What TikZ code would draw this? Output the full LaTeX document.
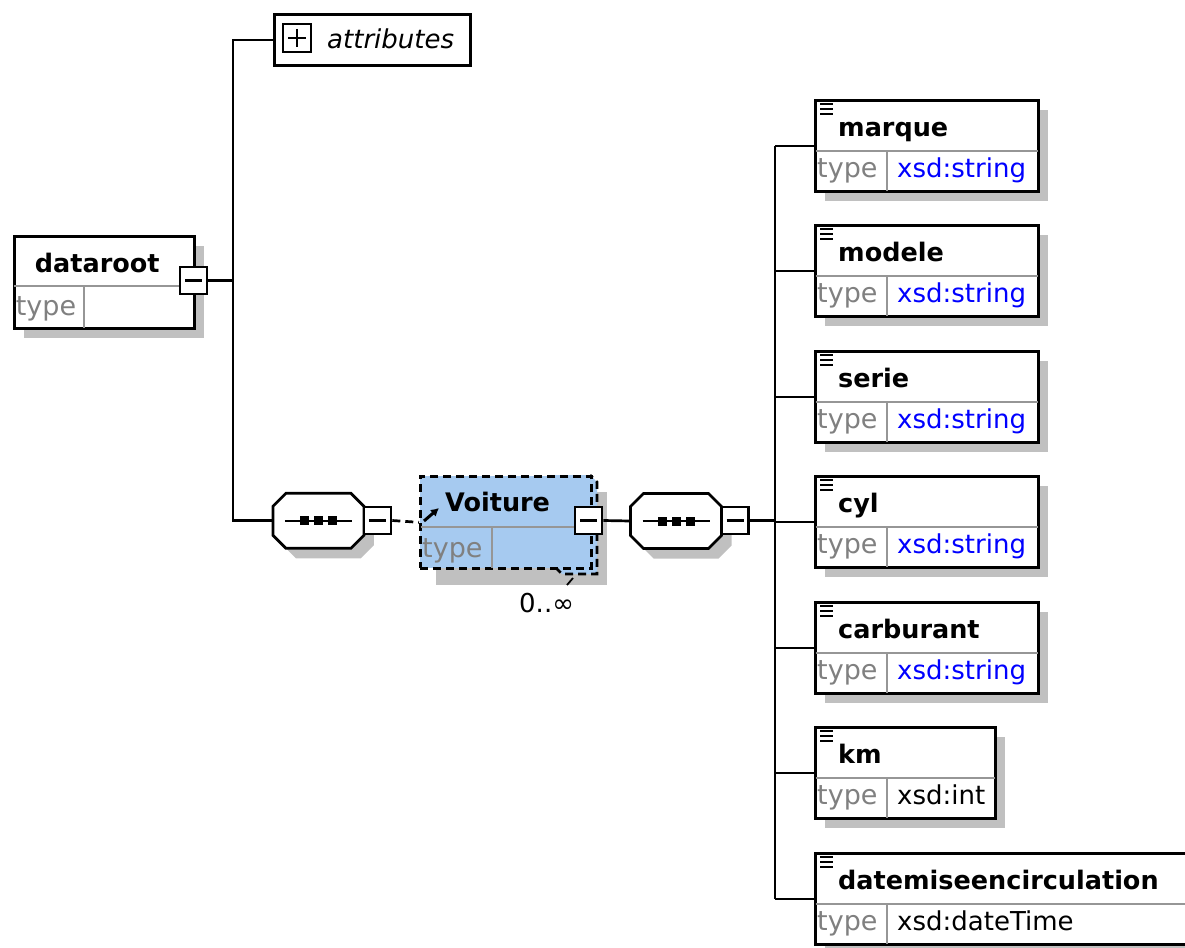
\documentclass[tikz,border=0pt]{standalone}
\usepackage{fontspec}
\setmainfont{DejaVu Sans}
\usetikzlibrary{calc,shadows,arrows.meta}
\definecolor{shadowgray}{RGB}{192,192,192}
\definecolor{divgray}{RGB}{150,150,150}
\definecolor{typegray}{RGB}{128,128,128}
\definecolor{xsdblue}{RGB}{0,0,255}
\definecolor{voiblue}{RGB}{166,202,240}
\tikzset{
  elem/.style={draw=black, line width=2.8pt, fill=white, rectangle, minimum height=91pt, inner sep=0pt,
    drop shadow={shadow xshift=10pt, shadow yshift=-10pt, fill=shadowgray, opacity=1}},
  divider/.style={draw=divgray, line width=2.2pt},
  titletext/.style={font=\fontsize{25.5}{30}\selectfont\bfseries, inner sep=0pt},
  typelabel/.style={font=\fontsize{27}{30}\selectfont, text=typegray, inner sep=0pt},
  typetext/.style={font=\fontsize{26}{30}\selectfont, inner sep=0pt},
  conn/.style={draw=black, line width=2.7pt},
  dashconn/.style={draw=black, line width=2.7pt, dash pattern=on 8pt off 5pt},
  iconline/.style={line width=1.7pt},
  minusbox/.style={draw=black, fill=white, line width=2.6pt, minimum size=27pt, inner sep=0pt,
    path picture={\draw[line width=2.4pt] ([xshift=5pt]path picture bounding box.west) -- ([xshift=-5pt]path picture bounding box.east);}},
  plusbox/.style={draw=black, fill=white, line width=2.6pt, minimum size=28pt, inner sep=0pt,
    path picture={\draw[line width=2.4pt] ([xshift=5pt]path picture bounding box.west) -- ([xshift=-5pt]path picture bounding box.east);
                  \draw[line width=2.4pt] ([yshift=-5pt]path picture bounding box.north) -- ([yshift=5pt]path picture bounding box.south);}},
}
\newcommand{\elembox}[7]{%
  \node[elem, minimum width=#4pt, anchor=north west] (#1) at (#2,#3) {};
  \draw[divider] ($(#1.north west)+(1.5,52)$) -- ($(#1.north east)+(-1.5,52)$);
  \draw[divider] ($(#1.north west)+(73,52)$) -- ($(#1.south west)+(73,-1.5)$);
  \draw[iconline] ($(#1.north west)+(6,5)$) -- +(13,0);
  \draw[iconline] ($(#1.north west)+(6,10)$) -- +(13,0);
  \draw[iconline] ($(#1.north west)+(6,15)$) -- +(13,0);
  \node[titletext, anchor=base west] (#1-title) at ($(#1.north west)+(24,37)$) {#5};
  \node[typelabel, anchor=base west] (#1-key) at ($(#1.north west)+(3,78)$) {type};
  \node[typetext, text=#7, anchor=base west] (#1-val) at ($(#1.north west)+(83,78)$) {#6};
}
\newcommand{\seqnode}[3]{%
  \node[rectangle, minimum width=91pt, minimum height=55pt, inner sep=0pt] (#1) at (#2,#3) {};
  \begin{scope}[shift={(#2,#3)}]
    \fill[shadowgray, shift={(10,10)}] (-32.5,-27.5) -- (32.5,-27.5) -- (45.5,-14.5) -- (45.5,14.5) -- (32.5,27.5) -- (-32.5,27.5) -- (-45.5,14.5) -- (-45.5,-14.5) -- cycle;
    \draw[line width=2.7pt, fill=white] (-32.5,-27.5) -- (32.5,-27.5) -- (45.5,-14.5) -- (45.5,14.5) -- (32.5,27.5) -- (-32.5,27.5) -- (-45.5,14.5) -- (-45.5,-14.5) -- cycle;
    \draw[line width=2.5pt] (-33.5,0) -- (33.5,0);
    \fill (-18.5,-4.5) rectangle (-9.5,4.5);
    \fill (-4.5,-4.5) rectangle (4.5,4.5);
    \fill (9.5,-4.5) rectangle (18.5,4.5);
  \end{scope}
}
\begin{document}
\begin{tikzpicture}[x=1pt,y=-1pt]
\useasboundingbox (0,0) rectangle (1185,947);

% dataroot
\node[elem, minimum width=180pt, minimum height=92pt, anchor=north west] (dataroot) at (12.7,235) {};
\draw[divider] ($(dataroot.north west)+(1.5,51)$) -- ($(dataroot.north east)+(-1.5,51)$);
\draw[divider] ($(dataroot.north west)+(71,51)$) -- ($(dataroot.south west)+(71,-1.5)$);
\node[titletext, anchor=base west] (dataroot-title) at ($(dataroot.north west)+(22,37)$) {dataroot};
\node[typelabel, anchor=base west] (dataroot-key) at ($(dataroot.north west)+(3,80)$) {type};
\node[minusbox] (drm) at (193.5,280.5) {};

% attributes
\node[draw=black, line width=2.8pt, fill=white, rectangle, minimum width=196pt, minimum height=51pt, inner sep=0pt, anchor=north west] (attr) at (273,13) {};
\node[plusbox] (attrplus) at (297,38) {};
\node[typetext, font=\fontsize{26}{30}\selectfont\itshape, anchor=base west] (attr-text) at (327,49) {attributes};

% junction 1
\coordinate (j1) at (233,280.5);
\draw[conn] (drm.east) -- (j1);
\draw[conn] (attr.west) -| (j1);
\seqnode{seq1}{318.4}{520.8}
\draw[conn] (j1) |- (seq1.west);
\node[minusbox] (s1m) at (377.5,520.5) {};

% Voiture
\fill[shadowgray] (436,492) rectangle (607,585);
\fill[voiblue] (555,567) -- (562,574) -- (597,574) -- (597,482) -- (590,475) -- (555,475) -- cycle;
\draw[line width=2.7pt, dash pattern=on 8pt off 5pt] (555,567) -- (562,574) -- (597,574) -- (597,482) -- (590,475);
\node[rectangle, fill=voiblue, draw=black, line width=2.7pt, dash pattern=on 8pt off 5pt, minimum width=171pt, minimum height=92pt, inner sep=0pt, anchor=north west] (voi) at (419,475) {};
\draw[divider] ($(voi.north west)+(1.5,52)$) -- ($(voi.north east)+(-1.5,52)$);
\draw[divider] ($(voi.north west)+(73,52)$) -- ($(voi.south west)+(73,-1.5)$);
\draw[line width=3pt, -{Latex[length=8pt,width=9pt]}] (424,521) -- (439,508);
\node[titletext, anchor=base west] (voi-title) at (445,511) {Voiture};
\node[typelabel, anchor=base west] (voi-key) at (422,557) {type};
\node[minusbox] (vm) at (588.5,520.5) {};
\draw[line width=1.8pt] (573,578) -- (567,585);
\node[typetext, anchor=base west] (occ) at (519,612) {0..∞};
\draw[dashconn] (s1m.east) -- (voi.west);

% second sequence
\seqnode{seq2}{676}{521}
\draw[conn] (vm.east) -- (seq2.west);
\node[minusbox] (s2m) at (735,520.5) {};
\coordinate (j2) at (775,520.5);
\draw[conn] (s2m.east) -- (j2);

% child elements
\elembox{marque}{814}{99}{223}{marque}{xsd:string}{xsdblue}
\elembox{modele}{814}{224}{223}{modele}{xsd:string}{xsdblue}
\elembox{serie}{814}{350}{223}{serie}{xsd:string}{xsdblue}
\elembox{cyl}{814}{475}{223}{cyl}{xsd:string}{xsdblue}
\elembox{carburant}{814}{601}{223}{carburant}{xsd:string}{xsdblue}
\elembox{km}{814}{726}{180}{km}{xsd:int}{black}
\elembox{datemise}{814}{852}{380}{datemiseencirculation}{xsd:dateTime}{black}

\draw[conn] (j2 |- marque.west) -- (j2 |- datemise.west);
\foreach \n in {marque,modele,serie,cyl,carburant,km,datemise}
  \draw[conn] (j2 |- \n.west) -- (\n.west);
\end{tikzpicture}
\end{document}
